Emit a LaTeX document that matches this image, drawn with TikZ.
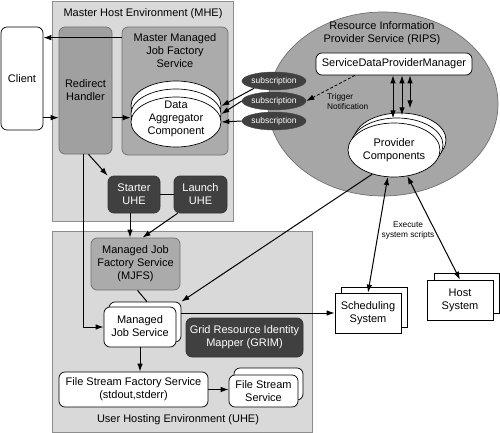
\documentclass[tikz,border=0pt]{standalone}
\usepackage{fontspec}
\setmainfont{Liberation Sans}
\usetikzlibrary{arrows.meta,shapes.geometric,calc}
\definecolor{envgray}{HTML}{D9D9D9}
\definecolor{ripsgray}{HTML}{A6A6A6}
\definecolor{midgray}{HTML}{ABABAB}
\definecolor{redgray}{HTML}{A0A0A0}
\definecolor{darkfill}{HTML}{404040}
\definecolor{edgegray}{HTML}{707070}
\begin{document}
\begin{tikzpicture}[x=1pt,y=-1pt,
  every node/.style={font=\fontsize{11}{13}\selectfont, align=center, inner sep=0pt},
  env/.style={rectangle, fill=envgray, draw=edgegray!80, line width=0.7pt},
  graybox/.style={rectangle, rounded corners=6pt, draw=edgegray, line width=0.7pt},
  darkbox/.style={rectangle, rounded corners=6pt, fill=darkfill, draw=black!80, text=white, line width=0.7pt},
  whitebox/.style={rectangle, rounded corners=6pt, fill=white, draw=black, line width=0.7pt},
  plainbox/.style={rectangle, fill=white, draw=black, line width=0.7pt},
  wellipse/.style={ellipse, fill=white, draw=black, line width=0.7pt},
  subell/.style={ellipse, fill=darkfill, draw=black!70, text=white, minimum width=60pt, minimum height=18pt, font=\fontsize{8.5}{9}\selectfont},
  arr/.style={-{Latex[length=8pt,width=5.5pt]}, line width=1pt},
  dbl/.style={{Latex[length=8pt,width=5.5pt]}-{Latex[length=8pt,width=5.5pt]}, line width=1pt},
  small/.style={font=\fontsize{8.3}{10}\selectfont}
]
\useasboundingbox (0,0) rectangle (500,433);

% environments
\node[env, minimum width=181pt, minimum height=220pt] (mhe) at (142.5,111) {};
\node[env, minimum width=260pt, minimum height=201pt] (uhe) at (182,331.5) {};
\node[ellipse, fill=ripsgray, draw=edgegray, line width=0.7pt, minimum width=230pt, minimum height=184pt] (rips) at (383,104) {};

\node (mhetitle) at (143,14) {Master Host Environment (MHE)};
\node (uhetitle) at (178,420) {User Hosting Environment (UHE)};
\node (ripstitle) at (382,33) {Resource Information\\Provider Service (RIPS)};

% MHE content
\node[whitebox, minimum width=42pt, minimum height=103pt] (client) at (22,78.5) {Client};
\node[graybox, fill=redgray, minimum width=53pt, minimum height=127pt] (redirect) at (85.5,90.5) {Redirect\\Handler};
\node[graybox, fill=midgray, minimum width=106pt, minimum height=128pt] (mmjfs) at (175,91) {};
\node (mmjfstitle) at (175,51) {Master Managed\\Job Factory\\Service};
\node[wellipse, minimum width=90pt, minimum height=50pt] (dacC) at (176,106) {};
\node[wellipse, minimum width=90pt, minimum height=50pt] (dacB) at (176,114) {};
\node[wellipse, minimum width=90pt, minimum height=50pt] (dacA) at (176,122) {};
\node (dactext) at (176,119) {Data\\Aggregator\\Component};
\node[darkbox, minimum width=52pt, minimum height=37pt] (starter) at (134,194.5) {Starter\\UHE};
\node[darkbox, minimum width=53pt, minimum height=37pt] (launch) at (200.5,194.5) {Launch\\UHE};

% UHE content
\node[graybox, fill=midgray, minimum width=89pt, minimum height=52pt] (mjfs) at (135.5,264) {Managed Job\\Factory Service\\(MJFS)};
\node[whitebox, minimum width=72pt, minimum height=40pt] (mjsB) at (145,322) {};
\node[whitebox, minimum width=72pt, minimum height=40pt] (mjsA) at (140,327) {};
\node (mjstext) at (140,326) {Managed\\Job Service};
\node[darkbox, minimum width=117pt, minimum height=39pt] (grim) at (244.5,337.5) {Grid Resource Identity\\Mapper (GRIM)};
\node[whitebox, minimum width=149pt, minimum height=35pt] (fsfs) at (133.5,389.5) {File Stream Factory Service\\(stdout,stderr)};
\node[whitebox, minimum width=69pt, minimum height=32pt] (fssB) at (268.5,384) {};
\node[whitebox, minimum width=69pt, minimum height=32pt] (fssA) at (263.5,391) {File Stream\\Service};

% RIPS content
\node[whitebox, minimum width=156pt, minimum height=22pt] (sdpm) at (394,64) {ServiceDataProviderManager};
\node[wellipse, minimum width=92pt, minimum height=54pt] (pcC) at (400,140) {};
\node[wellipse, minimum width=92pt, minimum height=54pt] (pcB) at (397,145) {};
\node[wellipse, minimum width=92pt, minimum height=54pt] (pcA) at (394,150) {Provider\\Components};
\node[subell] (sub1) at (274,81) {subscription};
\node[subell] (sub2) at (274,101) {subscription};
\node[subell] (sub3) at (274,121) {subscription};
\node[small, anchor=west, align=left] (trig) at (327,102) {Trigger\\Notification};

% external systems
\node[plainbox, minimum width=66pt, minimum height=40pt] (schedB) at (374,307) {};
\node[plainbox, minimum width=66pt, minimum height=40pt] (schedA) at (368,313) {Scheduling\\System};
\node[plainbox, minimum width=65pt, minimum height=40pt] (hostB) at (466.5,293) {};
\node[plainbox, minimum width=66pt, minimum height=40pt] (hostA) at (460,300) {Host\\System};
\node[small] (exec) at (408,231) {Execute\\system scripts};

% connectors
\draw[arr] ([yshift=-11pt]mmjfs.north west) -- ([yshift=-11pt]client.north east);
\draw[arr] ([yshift=-91pt]client.north east) -- ([yshift=-91pt]redirect.north west);
\draw[arr] ([yshift=-91pt]redirect.north east) -- ([yshift=-91pt]redirect.north east -| dacA.west);
\draw[arr] ([xshift=3pt]redirect.south) -- (starter.north west);
\draw[arr] ([xshift=-2.5pt]redirect.south) |- (mjsA.west);
\draw[line width=1pt] (starter) -- (launch);
\draw[arr] ([xshift=-4pt]starter.south) -- ([xshift=-4pt]starter.south |- mjfs.north);
\draw[arr] ([xshift=-23pt]launch.south) -- ([xshift=7pt]mjfs.north);
\draw[line width=1pt] ([xshift=2pt]mjfs.south) -- ([xshift=2pt]mjsB.north);
\draw[arr] (mjsA.south) -- (mjsA.south |- fsfs.north);
\draw[arr] (fsfs.east) -- (fsfs.east -| fssA.west);
\draw[arr] (mjsB.east |- schedA.west) -- (schedA.west);

\draw[arr] (sub1.200) -- (dacC.east);
\draw[arr] (sub2.west) -- (dacB.east);
\draw[arr] (sub3.west) -- (dacA.east);
\draw[arr, line width=0.8pt, dash pattern=on 3pt off 2pt] ([xshift=-39pt]sdpm.south) -- (sub2.east);

\draw[dbl] ([xshift=-1pt]sdpm.south) -- ++(0,43);
\draw[dbl] ([xshift=8pt]sdpm.south) -- ++(0,40);
\draw[dbl] ([xshift=16pt]sdpm.south) -- ++(0,33);

\draw[arr] (pcA.228) -- (mjsB.north east);
\draw[dbl] (pcA.257) -- (schedA.north);
\draw[dbl] (pcA.297) -- (hostA.north);
\end{tikzpicture}
\end{document}
